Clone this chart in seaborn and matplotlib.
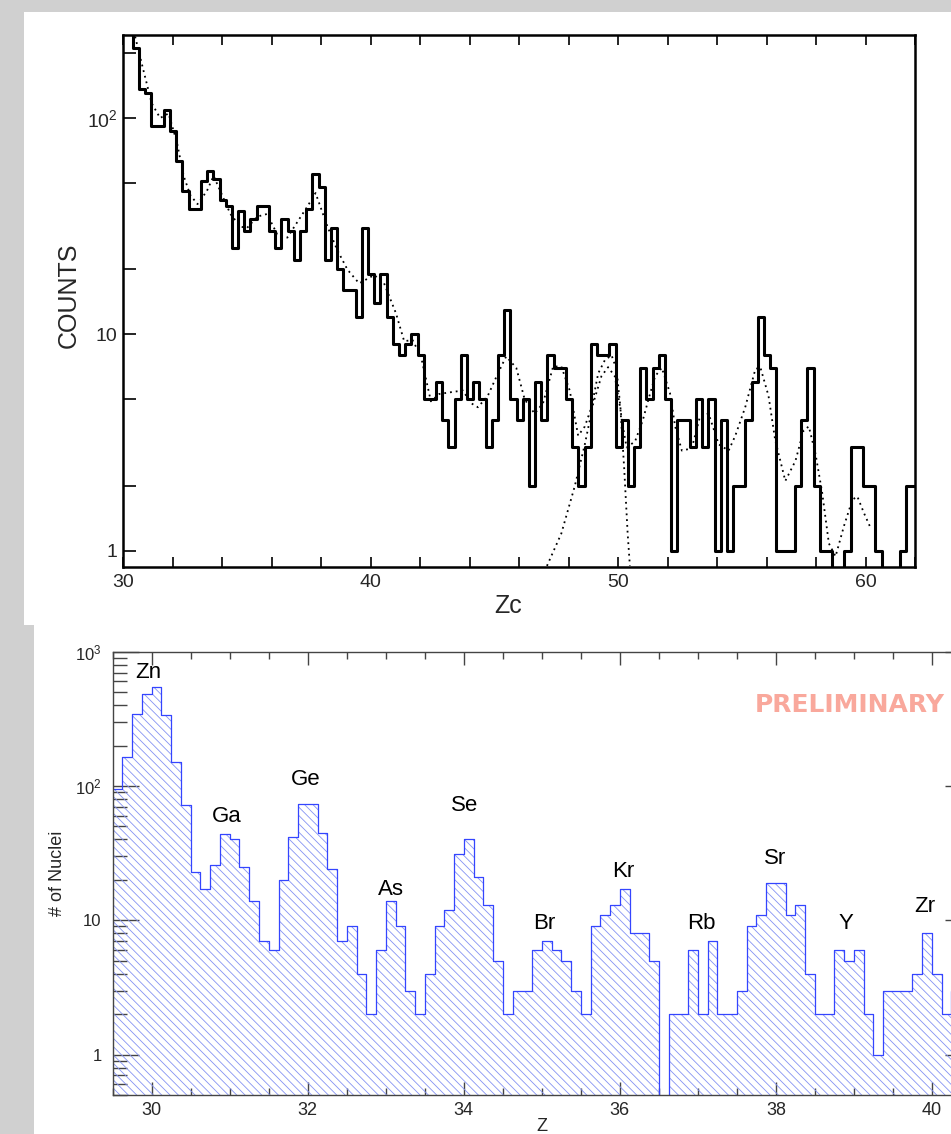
import numpy as np
import matplotlib
matplotlib.use("Agg")
import matplotlib.pyplot as plt
from matplotlib.patches import Rectangle
from matplotlib.ticker import FixedLocator, FixedFormatter, MultipleLocator, LogLocator, NullFormatter
import seaborn as sns

sns.set_style("ticks")
plt.rcParams['font.family'] = ['Liberation Sans', 'DejaVu Sans']
plt.rcParams['mathtext.fontset'] = 'custom'
plt.rcParams['mathtext.rm'] = 'Liberation Sans'
plt.rcParams['mathtext.it'] = 'Liberation Sans:italic'
plt.rcParams['hatch.linewidth'] = 0.6

# ---- top panel: counts vs reconstructed charge Zc (0.25 wide bins) ----
zc_start = 30.15
zc_width = 0.25
zc_counts = [300, 210, 136, 131, 92, 92, 109, 87, 63, 46,
             38, 38, 51, 57, 52, 42, 39, 25, 37, 30,
             34, 39, 39, 30, 25, 34, 30, 22, 30, 38,
             55, 48, 22, 31, 20, 16, 16, 12, 31, 19,
             14, 19, 12, 9, 8, 9, 10, 8, 5, 5,
             6, 4, 3, 5, 8, 5, 6, 5, 3, 4,
             8, 13, 5, 4, 5, 2, 6, 4, 8, 7,
             7, 5, 3, 2, 3, 9, 8, 8, 9, 3,
             4, 2, 3, 7, 5, 7, 8, 5, 1, 4,
             4, 3, 5, 3, 5, 1, 4, 1, 2, 2,
             4, 6, 12, 8, 7, 1, 1, 1, 2, 4,
             7, 2, 1, 1, 0, 0, 1, 3, 3, 2,
             2, 1, 0, 0, 0, 1, 2, 2]

# multi-gaussian fit (dotted)
fit_zc = [30.49, 30.82, 31.16, 31.5, 31.84, 32.18, 32.45, 32.72, 33.01, 33.39,
          33.66, 33.93, 34.34, 34.74, 35.01, 35.42, 35.82, 36.23, 36.64, 37.04,
          37.45, 37.78, 38.26, 38.66, 39.07, 39.54, 40.15, 40.55, 41.03, 41.36,
          41.7, 42.04, 42.44, 42.78, 43.25, 43.73, 44.07, 44.34, 44.74, 45.15,
          45.48, 45.89, 46.23, 46.63, 46.97, 47.38, 47.71, 48.05, 48.39, 48.66,
          48.93, 49.2, 49.47, 49.74, 49.94, 50.15, 50.35, 50.69, 51.0, 51.23,
          51.5, 51.77, 52.1, 52.31, 52.58, 52.98, 53.32, 53.66, 54.07, 54.47,
          54.74, 55.14, 55.55, 55.75, 56.08, 56.35, 56.76, 57.17, 57.5, 57.71,
          57.98, 58.25, 58.52, 58.79, 59.13, 59.47, 59.67, 59.94, 60.21]
fit_counts = [238, 167, 117, 100, 105, 77, 54, 44, 40, 46,
              54, 46, 36, 31.5, 31, 35, 36, 29, 28, 33,
              39, 45, 31.5, 24.5, 19.9, 17.2, 18.8, 17.2, 12.5, 9.3,
              9.4, 7.9, 4.9, 5.3, 5.4, 5.5, 4.8, 4.6, 5.2, 6.6,
              7.9, 7.0, 5.0, 4.3, 4.8, 7.1, 7.1, 5.5, 3.4, 3.75,
              4.6, 6.6, 7.6, 8.0, 6.9, 4.0, 3.0, 3.2, 4.0, 5.0,
              6.4, 7.0, 5.35, 3.75, 2.9, 2.97, 4.2, 4.3, 3.1, 2.9,
              3.4, 4.6, 6.9, 7.05, 5.2, 3.25, 2.1, 2.6, 3.6, 3.75,
              2.8, 1.85, 1.08, 0.94, 1.3, 1.72, 1.78, 1.49, 1.27]

# single component near Zc = 50 (dotted)
comp_zc = [47.13, 47.71, 48.25, 48.66, 49.0, 49.33, 49.6, 49.87, 50.1, 50.25, 50.39, 50.48]
comp_counts = [0.85, 1.2, 1.98, 3.1, 4.8, 6.4, 7.05, 6.4, 4.5, 2.4, 1.2, 0.85]

# ---- bottom panel: number of nuclei vs Z (0.125 wide bins) ----
z_start = 29.5
z_width = 0.125
z_counts = [95, 165, 345, 486, 542, 337, 150, 72, 23, 17,
            26, 44, 40, 25, 14, 7, 6, 20, 42, 73,
            74, 45, 24, 7, 9, 4, 2, 6, 14, 9,
            3, 2, 4, 9, 12, 31, 40, 21, 13, 5,
            2, 3, 3, 6, 7, 6, 5, 3, 2, 9,
            11, 13, 17, 8, 8, 5, 0, 2, 2, 6,
            2, 7, 2, 2, 3, 9, 11, 19, 19, 11,
            13, 4, 2, 2, 6, 5, 6, 2, 1, 3,
            3, 3, 4, 8, 4, 2, 3, 3]

elements = ['Zn', 'Ga', 'Ge', 'As', 'Se', 'Br', 'Kr', 'Rb', 'Sr', 'Y', 'Zr']
element_z = [29.96, 30.96, 31.97, 33.06, 34.01, 35.03, 36.04, 37.04, 37.99, 38.9, 39.91]
label_y = [697, 59, 111, 16.9, 71, 9.4, 23.2, 9.4, 28.8, 9.4, 12.6]

zc_edges = zc_start + zc_width * np.arange(len(zc_counts) + 1)
zc_centers = zc_edges[:-1] + zc_width / 2
z_edges = z_start + z_width * np.arange(len(z_counts) + 1)
z_centers = z_edges[:-1] + z_width / 2

W, H = 951, 1134


def box(x0, y0, x1, y1):
    # pixel box (top-left origin) -> figure fraction rect
    return [x0 / W, 1 - y1 / H, (x1 - x0) / W, (y1 - y0) / H]


fig = plt.figure(figsize=(9.51, 11.34), dpi=100, facecolor='#d0d0d0')
fig.patches.append(Rectangle((24 / W, 1 - 625 / H), (W - 24) / W, (625 - 12) / H,
                             transform=fig.transFigure, facecolor='white', edgecolor='none', zorder=-5))
fig.patches.append(Rectangle((34 / W, 0), (W - 34) / W, 1 - 625 / H,
                             transform=fig.transFigure, facecolor='white', edgecolor='none', zorder=-5))

# ---------------- top panel ----------------
ax1 = fig.add_axes(box(123, 35, 915, 567))
ax1.set_facecolor('white')
ax1.set_yscale('log', nonpositive='clip')
sns.histplot(x=zc_centers, weights=zc_counts, bins=zc_edges.tolist(), element='step', fill=False,
             color='black', linewidth=2.2, ax=ax1)
sns.lineplot(x=fit_zc, y=fit_counts, color='black', linewidth=1.3, linestyle=(0, (1, 2.2)), ax=ax1)
sns.lineplot(x=comp_zc, y=comp_counts, color='black', linewidth=1.3, linestyle=(0, (1, 2.2)), ax=ax1)
ax1.set_yscale('log', nonpositive='clip')
ax1.set_xlim(30, 62)
ax1.set_ylim(0.84, 242)

ax1.xaxis.set_major_locator(FixedLocator([30, 40, 50, 60]))
ax1.xaxis.set_minor_locator(MultipleLocator(2))
ax1.yaxis.set_major_locator(FixedLocator([1, 10, 100]))
ax1.yaxis.set_major_formatter(FixedFormatter(['1', '10', '10$^{2}$']))
ax1.yaxis.set_minor_locator(FixedLocator([2, 5, 20, 50, 200]))
ax1.yaxis.set_minor_formatter(NullFormatter())
ax1.tick_params(axis='x', which='both', direction='in', top=True, length=7, width=1.2,
                labelsize=14, pad=5, color='black')
ax1.tick_params(axis='y', which='both', direction='in', right=False, length=9, width=1.2,
                labelsize=14, pad=4, color='black')
for s in ax1.spines.values():
    s.set_linewidth(1.8)
    s.set_color('black')

ax1.set_xlabel('Zc', fontsize=18)
ax1.xaxis.set_label_coords(0.486, -0.05)
ax1.set_ylabel('COUNTS', fontsize=18)
ax1.yaxis.set_label_coords(-0.053, 0.51)

# ---------------- bottom panel ----------------
ax2 = fig.add_axes(box(112.7, 651.7, 971, 1095))
ax2.set_facecolor('white')
ax2.set_yscale('log', nonpositive='clip')
sns.histplot(x=z_centers, weights=z_counts, bins=z_edges.tolist(), element='step', fill=True,
             color='#8492f3', facecolor='none', edgecolor='#8492f3', linewidth=0,
             hatch='\\\\\\\\', ax=ax2)
sns.histplot(x=z_centers, weights=z_counts, bins=z_edges.tolist(), element='step', fill=False,
             color='#3445ff', linewidth=0.9, ax=ax2)
ax2.set_yscale('log', nonpositive='clip')
ax2.set_xlim(29.5, 40.5)
ax2.set_ylim(0.5, 1000)

ax2.xaxis.set_major_locator(FixedLocator([30, 32, 34, 36, 38, 40]))
ax2.xaxis.set_minor_locator(MultipleLocator(0.5))
ax2.yaxis.set_major_locator(FixedLocator([1, 10, 100, 1000]))
ax2.yaxis.set_major_formatter(FixedFormatter(['1', '10', '10$^{2}$', '10$^{3}$']))
ax2.yaxis.set_minor_locator(LogLocator(base=10, subs=np.arange(2, 10)))
ax2.yaxis.set_minor_formatter(NullFormatter())
ax2.tick_params(axis='x', which='major', direction='in', top=True, length=9.5, width=1.0,
                labelsize=13, pad=5, color='#444444')
ax2.tick_params(axis='x', which='minor', direction='in', top=True, length=4.8, width=1.0, color='#444444')
ax2.tick_params(axis='y', which='major', direction='in', right=True, length=19, width=1.0,
                labelsize=12, pad=8, color='#444444')
ax2.tick_params(axis='y', which='minor', direction='in', right=True, length=10, width=1.0, color='#444444')
for s in ax2.spines.values():
    s.set_linewidth(1.0)
    s.set_color('#444444')

ax2.set_xlabel('Z', fontsize=13)
ax2.xaxis.set_label_coords(0.5, -0.052)
ax2.set_ylabel('# of Nuclei', fontsize=13)
ax2.yaxis.set_label_coords(-0.054, 0.50)

for name, zx, yy in zip(elements, element_z, label_y):
    ax2.text(zx, yy, name, ha='center', va='center', fontsize=16, color='black')

ax2.text(38.95, 402, 'PRELIMINARY', ha='center', va='center', fontsize=18,
         fontweight='bold', color='#f9a89c', family='DejaVu Sans')

fig.savefig('out.png', dpi=100, facecolor=fig.get_facecolor())
